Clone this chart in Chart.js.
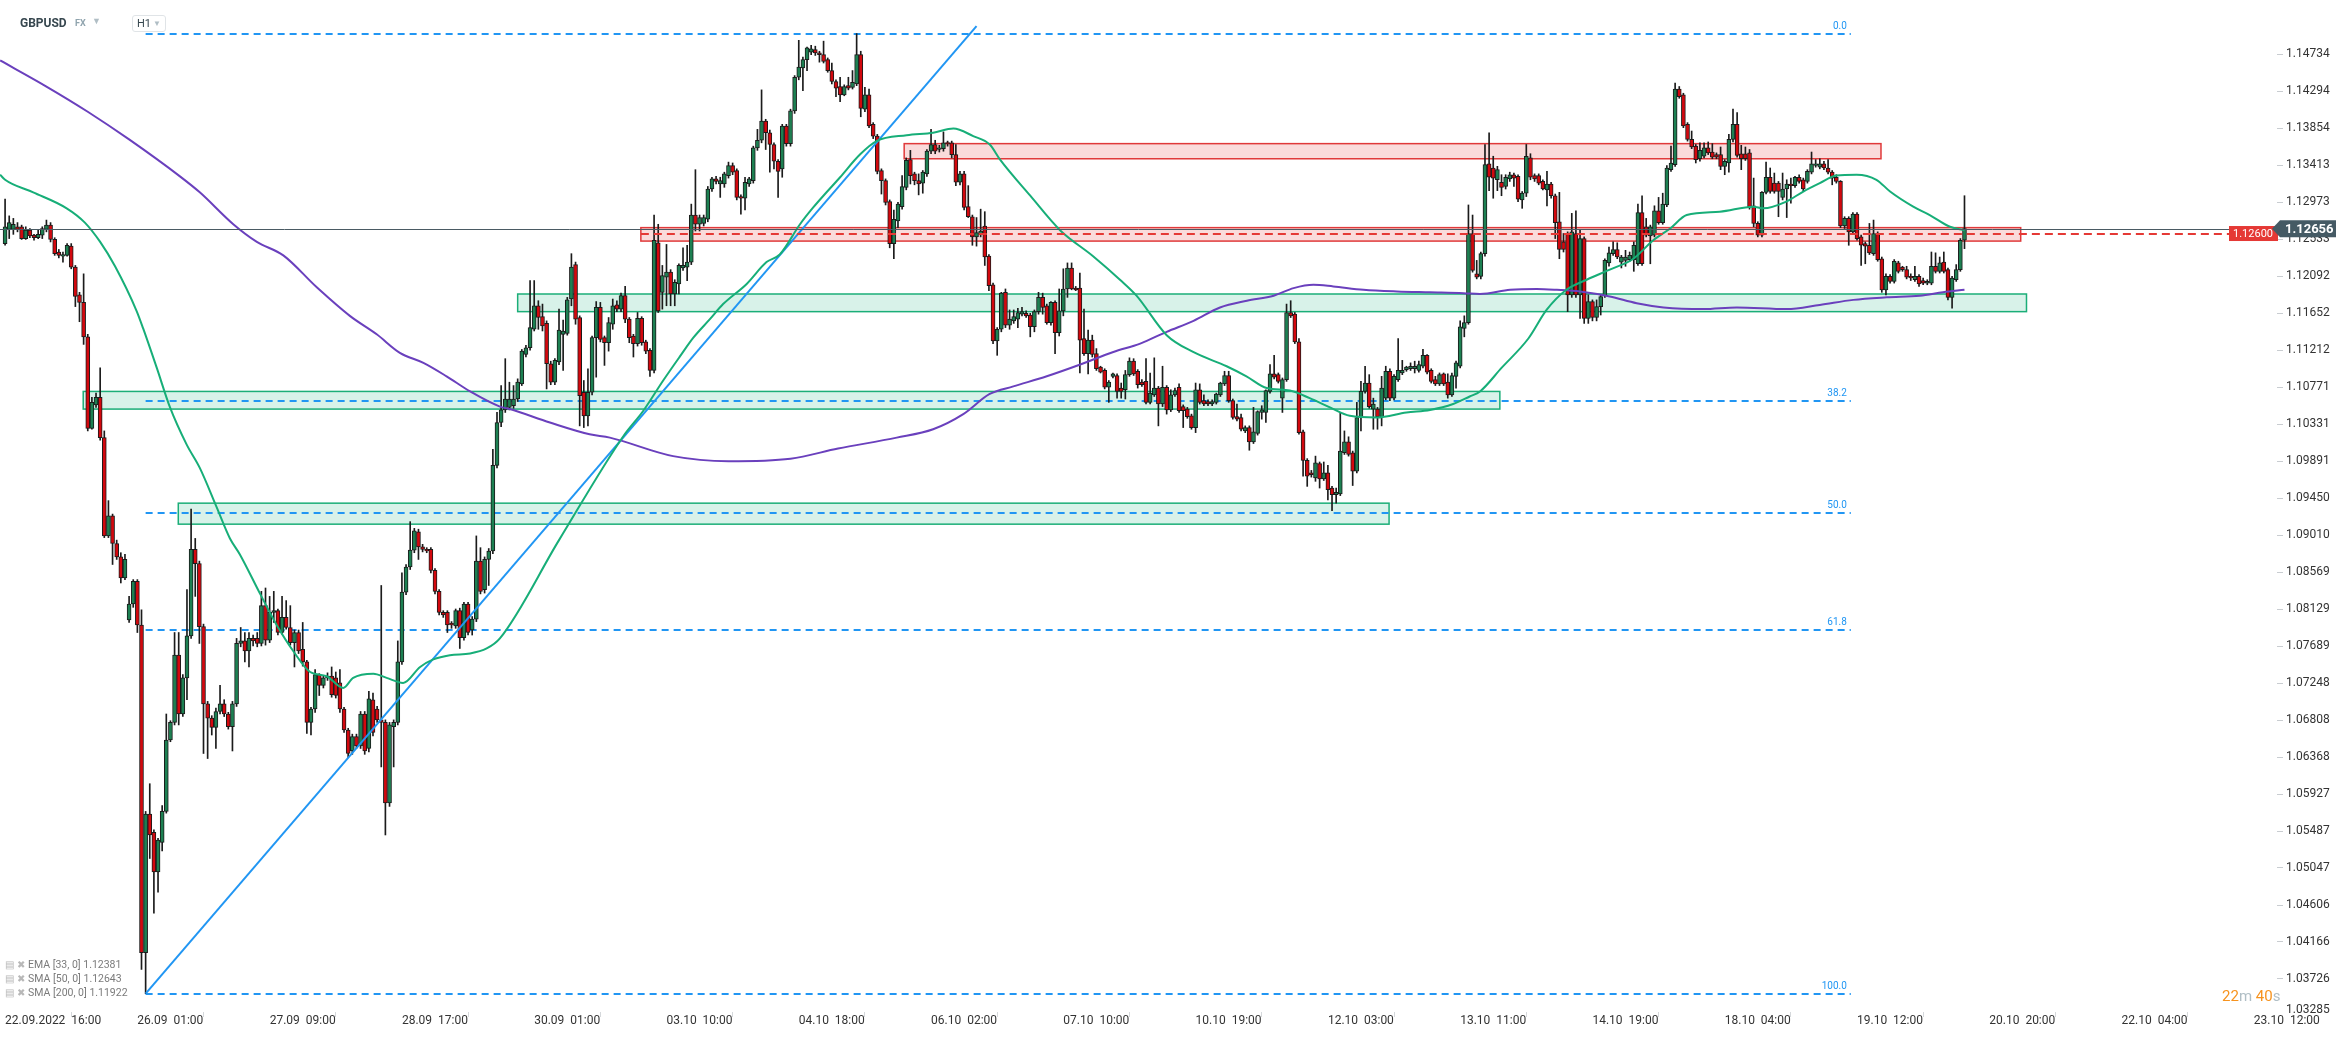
<!DOCTYPE html>
<html>
<head>
<meta charset="utf-8">
<script src="https://cdn.jsdelivr.net/npm/chart.js@4.4.0/dist/chart.umd.min.js"></script>
<style>
  html, body { margin: 0; padding: 0; background: #fff; }
  #wrap { position: relative; width: 2346px; height: 1039px; overflow: hidden; font-family: Roboto, "Noto Sans", sans-serif; }
  #chart { position: absolute; left: 0; top: 0; }
  .sym { position: absolute; left: 20px; top: 16px; font-size: 12px; font-weight: 700; color: #37474f; }
  .fx { position: absolute; left: 75px; top: 18px; font-size: 9px; font-weight: 700; color: #90a4ae; }
  .caret { position: absolute; font-size: 9px; color: #b0bec5; }
  .tf { position: absolute; left: 132px; top: 15px; width: 34px; height: 17px; box-sizing: border-box; border: 1px solid #e0e4e7; border-radius: 3px; background: #fff; font-size: 11px; color: #37474f; line-height: 15px; padding-left: 4px; }
  .tf span { position: absolute; left: 20px; top: 0; font-size: 8px; color: #b0bec5; }
  .leg { position: absolute; left: 5px; font-size: 10.5px; color: #7b7b7b; white-space: pre; line-height: 13px; }
  .leg i { font-style: normal; color: #b8b8b8; font-size: 10px; margin-right: 3px; }
  .timer { position: absolute; left: 2222px; top: 987px; font-size: 15px; white-space: pre; }
</style>
</head>
<body>
<div id="wrap">
  <canvas id="chart" width="2346" height="1039"></canvas>
  <div class="sym">GBPUSD</div>
  <div class="fx">FX</div>
  <div class="caret" style="left:92px;top:16px;">&#9660;</div>
  <div class="tf">H1<span>&#9660;</span></div>
  <div class="leg" style="top:958px;"><i>&#9636;</i><i>&#10006;</i>EMA [33, 0] 1.12381</div>
  <div class="leg" style="top:972px;"><i>&#9636;</i><i>&#10006;</i>SMA [50, 0] 1.12643</div>
  <div class="leg" style="top:986px;"><i>&#9636;</i><i>&#10006;</i>SMA [200, 0] 1.11922</div>
  <div class="timer"><span style="color:#f7931e">22</span><span style="color:#b0bec5">m</span> <span style="color:#f7931e">40</span><span style="color:#b0bec5">s</span></div>
</div>
<script>
// axis labels (one x label every 32 hourly bars)
const xTickIdx = [0, 32, 64, 96, 128, 160, 192, 224, 256, 288, 320, 352, 384, 416, 448, 480, 512, 544];
const xTickLabels = [
  "22.09.2022  16:00", "26.09  01:00", "27.09  09:00", "28.09  17:00", "30.09  01:00", "03.10  10:00",
  "04.10  18:00", "06.10  02:00", "07.10  10:00", "10.10  19:00", "12.10  03:00", "13.10  11:00",
  "14.10  19:00", "18.10  04:00", "19.10  12:00", "20.10  20:00", "22.10  04:00", "23.10  12:00",
];
const yTickLabels = [
  "1.14734", "1.14294", "1.13854", "1.13413", "1.12973", "1.12533", "1.12092", "1.11652", "1.11212",
  "1.10771", "1.10331", "1.09891", "1.09450", "1.09010", "1.08569", "1.08129", "1.07689", "1.07248",
  "1.06808", "1.06368", "1.05927", "1.05487", "1.05047", "1.04606", "1.04166", "1.03726",
];
const yBottomLabel = "1.03285";

// hourly candles, [open, high, low, close] in 0.0001 units
const ohlc = [
  [11248,11301,11246,11268],[11265,11281,11254,11273],[11265,11278,11259,11271],[11268,11273,11262,11265],
  [11268,11270,11253,11254],[11254,11268,11253,11264],[11264,11266,11255,11257],[11258,11259,11252,11255],
  [11255,11265,11254,11259],[11258,11268,11254,11266],[11265,11276,11262,11270],[11270,11273,11250,11253],
  [11253,11255,11234,11236],[11238,11241,11231,11234],[11233,11238,11226,11235],[11234,11248,11233,11246],
  [11245,11248,11218,11220],[11220,11222,11173,11185],[11187,11190,11155,11178],[11178,11212,11128,11137],
  [11137,11140,11025,11028],[11028,11065,11027,11059],[11056,11070,11053,11065],[11065,11100,11014,11017],
  [11017,11025,10898,10900],[10900,10942,10898,10924],[10924,10926,10866,10891],[10891,10895,10872,10875],
  [10875,10880,10844,10850],[10850,10878,10848,10872],[10800,10828,10797,10819],[10819,10848,10815,10846],
  // 26.09
  [10846,10848,10785,10794],[10794,10812,10384,10404],[10404,10572,10355,10569],[10569,10605,10516,10544],
  [10547,10550,10451,10500],[10500,10540,10476,10538],[10535,10579,10525,10572],[10572,10688,10570,10657],
  [10657,10680,10655,10678],[10678,10785,10675,10758],[10758,10785,10675,10688],[10688,10735,10685,10731],
  [10731,10836,10705,10781],[10781,10932,10778,10884],[10884,10897,10828,10867],[10867,10870,10772,10792],
  [10792,10795,10641,10700],[10700,10703,10635,10683],[10683,10686,10663,10672],[10672,10695,10647,10691],
  [10691,10722,10688,10700],[10700,10705,10685,10688],[10688,10690,10670,10673],[10673,10703,10644,10700],
  [10700,10778,10697,10772],[10772,10791,10768,10775],[10775,10785,10750,10763],[10763,10785,10744,10778],
  [10778,10782,10769,10775],[10778,10785,10768,10772],[10772,10834,10769,10817],[10817,10838,10770,10776],
  // 27.09
  [10776,10828,10773,10809],[10809,10834,10797,10811],[10811,10813,10782,10785],[10785,10828,10783,10803],
  [10803,10823,10789,10791],[10791,10817,10770,10773],[10773,10788,10744,10785],[10785,10788,10760,10763],
  [10765,10797,10745,10750],[10750,10752,10665,10678],[10678,10696,10663,10694],[10694,10741,10690,10735],
  [10735,10736,10710,10722],[10722,10734,10719,10731],[10731,10737,10728,10733],[10733,10744,10708,10711],
  [10731,10738,10707,10710],[10725,10741,10690,10694],[10694,10696,10666,10669],[10669,10671,10636,10641],
  [10644,10664,10640,10661],[10661,10664,10647,10650],[10650,10691,10647,10688],[10688,10691,10640,10644],
  [10647,10715,10643,10706],[10705,10713,10662,10666],[10694,10697,10678,10681],[10681,10841,10625,10678],
  [10678,10681,10544,10582],[10582,10678,10578,10675],[10673,10681,10625,10678],[10678,10775,10675,10750],
  // 28.09
  [10750,10856,10747,10833],[10833,10866,10830,10863],[10863,10917,10860,10883],[10883,10909,10880,10906],
  [10905,10908,10872,10887],[10887,10890,10881,10884],[10884,10886,10880,10882],[10884,10886,10856,10859],
  [10859,10861,10831,10834],[10834,10836,10806,10809],[10809,10811,10803,10806],[10809,10811,10785,10794],
  [10796,10798,10790,10794],[10793,10813,10790,10811],[10811,10814,10766,10779],[10779,10821,10776,10819],
  [10819,10821,10782,10785],[10788,10804,10782,10801],[10801,10900,10798,10870],[10870,10886,10831,10834],
  [10836,10875,10832,10872],[10872,10885,10841,10882],[10882,11003,10879,10984],[10984,11047,10981,11035],
  [11035,11079,11030,11050],[11050,11111,11047,11063],[11053,11083,11050,11063],[11055,11079,11052,11063],
  [11063,11087,11060,11083],[11081,11122,11079,11120],[11116,11127,11113,11124],[11124,11204,11121,11148],
  // 30.09
  [11146,11204,11144,11174],[11174,11180,11146,11160],[11161,11176,11144,11150],[11153,11156,11075,11105],
  [11105,11108,11080,11083],[11083,11111,11080,11109],[11107,11170,11104,11145],[11140,11157,11097,11144],
  [11141,11184,11139,11181],[11182,11236,11174,11220],[11223,11226,11152,11158],[11160,11162,11031,11067],
  [11071,11085,11029,11043],[11043,11099,11031,11071],[11071,11138,11068,11136],[11136,11179,11089,11172],
  [11172,11178,11131,11134],[11136,11138,11103,11130],[11130,11160,11120,11154],[11152,11182,11146,11174],
  [11175,11180,11167,11170],[11170,11189,11167,11186],[11186,11197,11154,11158],[11158,11160,11130,11136],
  [11138,11140,11113,11129],[11129,11166,11126,11159],[11159,11161,11127,11130],[11131,11133,11117,11120],
  [11121,11123,11090,11097],[11097,11282,11094,11252],[11249,11271,11166,11168],[11190,11222,11170,11210],
  // 03.10
  [11208,11247,11174,11214],[11214,11217,11174,11188],[11188,11205,11174,11202],[11200,11224,11188,11222],
  [11219,11243,11216,11222],[11220,11246,11204,11226],[11226,11295,11223,11282],[11282,11336,11263,11271],
  [11271,11282,11263,11279],[11272,11282,11269,11279],[11277,11316,11274,11313],[11313,11327,11310,11325],
  [11325,11328,11319,11322],[11319,11327,11303,11323],[11319,11333,11315,11331],[11329,11345,11326,11341],
  [11341,11344,11330,11333],[11335,11337,11300,11303],[11304,11306,11283,11302],[11302,11327,11288,11321],
  [11319,11327,11316,11325],[11323,11364,11320,11362],[11362,11384,11359,11371],[11371,11431,11368,11394],
  [11394,11396,11360,11380],[11380,11383,11333,11366],[11366,11368,11337,11346],[11346,11348,11303,11334],
  [11337,11390,11327,11388],[11388,11390,11364,11367],[11367,11408,11364,11406],[11406,11448,11403,11446],
  // 04.10
  [11446,11490,11443,11458],[11457,11470,11430,11467],[11467,11482,11454,11481],[11476,11484,11473,11480],
  [11479,11483,11472,11475],[11475,11477,11464,11473],[11473,11489,11463,11465],[11467,11469,11452,11454],
  [11454,11463,11438,11441],[11441,11443,11423,11433],[11435,11446,11417,11425],[11425,11437,11424,11435],
  [11436,11446,11431,11433],[11434,11454,11432,11440],[11438,11498,11436,11473],[11473,11477,11399,11409],
  [11408,11434,11405,11425],[11425,11432,11386,11388],[11390,11392,11373,11376],[11376,11378,11331,11334],
  [11335,11337,11307,11323],[11323,11325,11294,11297],[11298,11300,11243,11248],[11248,11288,11230,11277],
  [11275,11297,11267,11295],[11292,11329,11289,11316],[11315,11350,11312,11347],[11348,11359,11319,11329],
  [11331,11333,11318,11323],[11323,11331,11306,11319],[11320,11335,11308,11333],[11331,11360,11328,11358],
  // 06.10
  [11358,11384,11355,11366],[11366,11371,11355,11358],[11360,11365,11357,11362],[11361,11381,11358,11368],
  [11368,11370,11364,11367],[11368,11370,11350,11354],[11354,11366,11317,11321],[11321,11334,11318,11331],
  [11331,11334,11288,11291],[11292,11317,11279,11280],[11280,11282,11246,11256],[11256,11279,11245,11261],
  [11259,11289,11256,11263],[11269,11286,11222,11232],[11233,11235,11192,11198],[11199,11201,11129,11132],
  [11132,11148,11115,11146],[11146,11190,11143,11189],[11190,11194,11148,11151],[11151,11169,11146,11158],
  [11156,11169,11153,11161],[11158,11171,11148,11166],[11164,11172,11162,11167],[11165,11168,11160,11162],
  [11163,11165,11137,11149],[11149,11169,11143,11167],[11167,11190,11164,11184],[11184,11189,11164,11172],
  [11174,11176,11152,11154],[11154,11179,11151,11178],[11178,11180,11117,11142],[11142,11194,11138,11168],
  // 07.10
  [11168,11218,11162,11194],[11194,11225,11184,11219],[11219,11225,11193,11194],[11195,11197,11192,11193],
  [11195,11213,11094,11133],[11135,11170,11115,11117],[11117,11145,11093,11133],[11133,11139,11113,11116],
  [11117,11123,11097,11099],[11101,11102,11094,11095],[11097,11099,11075,11077],[11077,11085,11059,11083],
  [11090,11094,11088,11093],[11091,11093,11064,11072],[11076,11082,11064,11072],[11074,11097,11063,11092],
  [11092,11112,11090,11108],[11108,11111,11091,11093],[11096,11098,11076,11080],[11083,11086,11078,11080],
  [11084,11111,11057,11059],[11059,11094,11057,11070],[11068,11112,11066,11076],[11076,11078,11031,11057],
  [11057,11102,11054,11077],[11077,11079,11045,11050],[11050,11074,11048,11068],[11068,11076,11066,11073],
  [11077,11081,11047,11049],[11054,11056,11029,11049],[11051,11053,11040,11042],[11043,11045,11027,11029],
  // 10.10
  [11029,11082,11023,11074],[11074,11081,11057,11059],[11061,11068,11055,11057],[11060,11062,11055,11057],
  [11057,11062,11055,11060],[11059,11070,11057,11069],[11068,11083,11066,11082],[11081,11096,11079,11091],
  [11091,11096,11059,11061],[11061,11063,11039,11041],[11042,11057,11037,11039],[11041,11045,11025,11027],
  [11025,11031,11023,11029],[11029,11031,11002,11012],[11012,11053,11010,11024],[11022,11049,11020,11048],
  [11047,11055,11039,11050],[11047,11074,11035,11073],[11072,11104,11070,11093],[11093,11115,11087,11089],
  [11092,11094,11082,11084],[11064,11088,11047,11086],[11086,11176,11084,11166],[11166,11180,11160,11162],
  [11164,11166,11129,11131],[11131,11135,11021,11023],[11024,11026,10971,10990],[10990,10992,10959,10971],
  [10975,10978,10970,10973],[10969,10995,10965,10987],[10986,10988,10957,10968],[10968,10988,10966,10975],
  // 12.10
  [10975,10984,10943,10955],[10957,10959,10930,10949],[10949,10957,10939,10952],[10950,11047,10948,11001],
  [10999,11025,10997,11012],[11012,11018,10995,10997],[10999,11001,10960,10977],[10977,11059,10975,11041],
  [11041,11084,11025,11072],[11072,11102,11070,11082],[11082,11092,11052,11054],[11051,11064,11027,11057],
  [11051,11053,11027,11042],[11042,11090,11031,11076],[11064,11102,11062,11096],[11096,11099,11061,11064],
  [11064,11092,11062,11090],[11086,11135,11084,11097],[11094,11109,11092,11097],[11098,11102,11096,11101],
  [11099,11106,11097,11102],[11099,11108,11094,11102],[11097,11108,11095,11104],[11102,11122,11100,11115],
  [11115,11116,11093,11095],[11097,11099,11082,11084],[11086,11090,11079,11081],[11081,11094,11079,11092],
  [11093,11094,11079,11081],[11083,11093,11064,11068],[11068,11094,11066,11091],[11090,11108,11076,11106],
  // 13.10
  [11102,11156,11100,11149],[11147,11162,11137,11154],[11154,11294,11152,11260],[11260,11282,11214,11216],
  [11212,11228,11206,11208],[11209,11238,11206,11236],[11236,11366,11233,11342],[11343,11380,11311,11327],
  [11338,11352,11302,11326],[11324,11340,11311,11336],[11321,11330,11305,11315],[11316,11330,11313,11327],
  [11325,11333,11322,11330],[11330,11332,11316,11326],[11328,11330,11298,11301],[11300,11310,11290,11308],
  [11308,11366,11304,11352],[11350,11355,11324,11327],[11329,11331,11322,11325],[11329,11331,11318,11320],
  [11322,11324,11312,11313],[11312,11334,11293,11319],[11319,11321,11302,11305],[11305,11307,11254,11273],
  [11274,11309,11230,11241],[11250,11260,11238,11241],[11260,11262,11167,11187],[11187,11284,11184,11262],
  [11260,11287,11184,11187],[11187,11264,11159,11254],[11254,11256,11153,11159],[11159,11187,11153,11179],
  // 14.10
  [11179,11181,11156,11160],[11160,11181,11156,11173],[11173,11187,11163,11185],[11186,11230,11184,11228],
  [11225,11244,11221,11237],[11236,11250,11234,11241],[11241,11249,11230,11232],[11226,11234,11219,11232],
  [11228,11240,11221,11232],[11229,11238,11227,11234],[11229,11250,11215,11246],[11224,11295,11222,11285],
  [11285,11305,11222,11224],[11268,11278,11256,11258],[11257,11270,11224,11268],[11258,11293,11256,11287],
  [11287,11303,11271,11273],[11273,11308,11271,11295],[11294,11341,11292,11338],[11336,11364,11334,11344],
  [11342,11439,11340,11432],[11432,11435,11421,11423],[11425,11427,11386,11388],[11390,11392,11370,11372],
  [11372,11382,11361,11363],[11364,11366,11344,11348],[11349,11368,11346,11359],[11352,11368,11350,11362],
  [11362,11369,11354,11356],[11357,11367,11349,11351],[11354,11356,11349,11351],[11354,11363,11336,11340],
  // 18.10
  [11340,11348,11330,11346],[11344,11378,11333,11372],[11372,11408,11369,11390],[11390,11404,11351,11353],
  [11355,11365,11336,11349],[11355,11363,11347,11349],[11356,11360,11289,11292],[11293,11326,11268,11272],
  [11272,11274,11256,11258],[11258,11310,11256,11309],[11309,11345,11307,11327],[11327,11338,11308,11310],
  [11320,11332,11308,11310],[11320,11322,11280,11310],[11303,11332,11300,11313],[11313,11324,11279,11319],
  [11319,11326,11296,11317],[11317,11328,11315,11327],[11327,11330,11320,11322],[11324,11326,11311,11313],
  [11322,11336,11320,11334],[11333,11357,11331,11343],[11341,11348,11339,11343],[11339,11349,11337,11343],
  [11343,11346,11336,11338],[11338,11348,11331,11333],[11333,11335,11318,11326],[11327,11330,11320,11322],
  [11322,11323,11267,11269],[11269,11280,11266,11278],[11278,11280,11246,11262],[11262,11285,11260,11283],
  // 19.10
  [11283,11285,11252,11254],[11256,11258,11222,11246],[11248,11250,11224,11245],[11246,11272,11235,11237],
  [11236,11276,11234,11260],[11260,11262,11227,11229],[11230,11232,11190,11193],[11193,11212,11187,11209],
  [11209,11211,11201,11203],[11203,11229,11201,11227],[11225,11227,11213,11215],[11220,11221,11215,11217],
  [11217,11221,11206,11208],[11209,11212,11204,11207],[11205,11221,11203,11209],[11209,11211,11197,11200],
  [11204,11207,11199,11201],[11201,11205,11199,11203],[11201,11238,11199,11221],[11221,11237,11213,11215],
  [11215,11232,11213,11225],[11226,11238,11213,11215],[11217,11219,11181,11184],[11184,11209,11171,11207],
  [11205,11223,11203,11217],[11217,11254,11215,11252],[11252,11305,11242,11266],
];

// moving averages, [bar index, price]
const sma50 = [
  [-1.2,1.1330],[0,1.1324],[6.8,1.1309],[14.9,1.1290],[19.3,1.1273],[23,1.1250],[26.6,1.1221],[31.8,1.1168],
  [33.4,1.1147],[36.7,1.1100],[39.9,1.1053],[43.9,1.1009],[47.1,1.0981],[51.2,1.0934],[54.4,1.0897],[56.8,1.0878],
  [61.7,1.0831],[65.7,1.0794],[69.7,1.0763],[73.8,1.0738],[77.8,1.0733],[81.8,1.0719],[84.2,1.0731],[89.1,1.0736],
  [92.3,1.0731],[96.3,1.0725],[100.4,1.0744],[103.6,1.0753],[107.6,1.0758],[112.5,1.0760],[116.5,1.0766],[119.7,1.0778],
  [134,1.0895],[149.6,1.1019],[154.4,1.1049],[159.2,1.1085],[163.3,1.1114],[166.5,1.1136],[170.5,1.1158],[173.7,1.1176],
  [179.4,1.1200],[184.2,1.1226],[187.4,1.1235],[192.3,1.1271],[195.5,1.1291],[202,1.1327],[206.8,1.1354],[210.8,1.1370],
  [218.1,1.1377],[224.5,1.1380],[229.4,1.1385],[234.2,1.1376],[238.2,1.1366],[240.7,1.1348],[248,1.1305],[255.2,1.1264],
  [263.2,1.1233],[269.7,1.1205],[273.7,1.1186],[281,1.1139],[287.4,1.1119],[295.5,1.1102],[300.3,1.1090],[305.2,1.1076],
  [310.8,1.1073],[315.6,1.1064],[320.5,1.1053],[325.3,1.1043],[331.8,1.1041],[339,1.1047],[344.7,1.1050],[350.3,1.1057],
  [354.3,1.1066],[356.8,1.1072],[362,1.1100],[368.5,1.1135],[372.9,1.1169],[377.7,1.1193],[382.6,1.1205],[388.2,1.1217],
  [393.9,1.1230],[398.7,1.1252],[402.8,1.1266],[406.8,1.1282],[414.8,1.1286],[422.9,1.1292],[425.3,1.1290],[430.9,1.1298],
  [435,1.1310],[439,1.1320],[443,1.1329],[447.9,1.1330],[452.7,1.1324],[456,1.1310],[461.6,1.1292],[465.6,1.1282],
  [470.5,1.1268],[474,1.1264],
];
const sma200 = [
  [-1.2,1.1466],[10,1.1435],[20,1.1405],[30,1.1372],[42.3,1.1328],[47.1,1.1309],[55.2,1.1271],[60.9,1.1250],
  [67.3,1.1234],[75.4,1.1196],[83.4,1.1162],[89.9,1.1140],[95.5,1.1118],[101.2,1.1106],[106.8,1.1090],[112.5,1.1072],
  [119.7,1.1054],[122.1,1.1051],[131.8,1.1035],[141.4,1.1021],[146.3,1.1017],[161.6,1.0995],[175,1.0989],[190,1.0992],
  [201.5,1.1004],[215.7,1.1017],[224.5,1.1027],[231.8,1.1045],[238.2,1.1069],[243.9,1.1078],[252,1.1090],[260.1,1.1104],
  [268.1,1.1119],[274.6,1.1129],[281,1.1143],[287.5,1.1156],[293.9,1.1172],[300.4,1.1180],[306.9,1.1186],[311.7,1.1195],
  [316.5,1.1199],[321.3,1.1197],[328.6,1.1193],[336.7,1.1191],[344.7,1.1190],[352.8,1.1189],[356.8,1.1188],[364.1,1.1193],
  [370.5,1.1194],[375.4,1.1193],[381,1.1191],[388.2,1.1185],[394.7,1.1177],[401.2,1.1172],[410.8,1.1170],[418.9,1.1172],
  [431,1.1170],[439,1.1175],[447.1,1.1181],[455.2,1.1184],[463.2,1.1186],[468.8,1.1190],[474,1.1193],
];

// drawings on the chart: trend line, fibonacci levels, zones [fromIdx, toIdx, low, high]
const trendLine = [[34, 1.0355], [235, 1.1507]];
const fibStart = 34;
const fibEnd = 446.5;
const fibLevels = [["0.0", 1.1498], ["38.2", 1.1061], ["50.0", 1.0927], ["61.8", 1.0788], ["100.0", 1.0355]];
const greenZones = [[18.9, 361.6, 1.1051, 1.1072], [41.9, 334.8, 1.0914, 1.0939], [124, 489, 1.1167, 1.1188]];
const redZones = [[217.5, 453.8, 1.1349, 1.1367], [153.8, 487.6, 1.1251, 1.1267]];
const lastPrice = 1.12656;
const alertPrice = 1.12600;

const GREEN_BODY = "#1d8052";
const RED_BODY = "#d3080e";
const OUTLINE = "#1b1b1b";
const FIB_BLUE = "#2196f3";

const drawingsPlugin = {
  id: "drawings",
  beforeDatasetsDraw(chart) {
    const { ctx, chartArea, scales: { x, y } } = chart;
    ctx.save();
    ctx.beginPath();
    ctx.rect(chartArea.left, chartArea.top, chartArea.width, chartArea.height);
    ctx.clip();

    const zone = (z, fill, stroke) => {
      const x0 = x.getPixelForValue(z[0]);
      const x1 = x.getPixelForValue(z[1]);
      const y0 = y.getPixelForValue(z[3]);
      const y1 = y.getPixelForValue(z[2]);
      ctx.fillStyle = fill;
      ctx.fillRect(x0, y0, x1 - x0, y1 - y0);
      ctx.strokeStyle = stroke;
      ctx.lineWidth = 1.5;
      ctx.strokeRect(x0, y0, x1 - x0, y1 - y0);
    };
    greenZones.forEach(z => zone(z, "rgba(26,176,122,0.17)", "#1bae78"));
    redZones.forEach(z => zone(z, "rgba(229,57,53,0.18)", "#e0393a"));

    const fx0 = x.getPixelForValue(fibStart);
    const fx1 = x.getPixelForValue(fibEnd);
    ctx.strokeStyle = FIB_BLUE;
    ctx.lineWidth = 2;
    ctx.setLineDash([7, 5]);
    ctx.fillStyle = FIB_BLUE;
    ctx.font = "10px Roboto, sans-serif";
    ctx.textAlign = "right";
    ctx.textBaseline = "middle";
    fibLevels.forEach(([label, price]) => {
      const py = Math.round(y.getPixelForValue(price));
      ctx.beginPath();
      ctx.moveTo(fx0, py);
      ctx.lineTo(fx1, py);
      ctx.stroke();
      ctx.fillText(label, fx1 - 4, py - 8);
    });
    ctx.restore();
  },
  afterDatasetsDraw(chart) {
    const { ctx, chartArea, scales: { x, y } } = chart;
    ctx.save();
    const ly = Math.round(y.getPixelForValue(lastPrice)) + 0.5;
    ctx.strokeStyle = "#4a5a63";
    ctx.lineWidth = 1;
    ctx.beginPath();
    ctx.moveTo(chartArea.left, ly);
    ctx.lineTo(chartArea.right, ly);
    ctx.stroke();

    const ay = Math.round(y.getPixelForValue(alertPrice));
    ctx.strokeStyle = "#e53935";
    ctx.lineWidth = 2;
    ctx.setLineDash([8, 5]);
    ctx.beginPath();
    ctx.moveTo(x.getPixelForValue(redZones[1][0]), ay);
    ctx.lineTo(chartArea.right, ay);
    ctx.stroke();
    ctx.restore();
  },
  afterDraw(chart) {
    const { ctx, chartArea, scales: { y } } = chart;
    ctx.save();
    ctx.textAlign = "left";
    ctx.textBaseline = "middle";
    // bottom price label, shown without a tick mark
    ctx.fillStyle = "#333";
    ctx.font = "12px Roboto, sans-serif";
    ctx.fillText(yBottomLabel, chartArea.right + 9, chartArea.bottom - 2);
    // alert label
    const ay = y.getPixelForValue(alertPrice);
    ctx.fillStyle = "#e53935";
    ctx.fillRect(chartArea.right - 48, ay - 7.5, 49, 15);
    ctx.fillStyle = "#fff";
    ctx.font = "11px Roboto, sans-serif";
    ctx.fillText(alertPrice.toFixed(5), chartArea.right - 44, ay + 0.5);
    // last price label
    const ly = y.getPixelForValue(lastPrice);
    const lx = chartArea.right;
    ctx.fillStyle = "#455a64";
    ctx.beginPath();
    ctx.moveTo(lx - 5, ly);
    ctx.lineTo(lx + 3, ly - 8.5);
    ctx.lineTo(lx + 59, ly - 8.5);
    ctx.lineTo(lx + 59, ly + 8.5);
    ctx.lineTo(lx + 3, ly + 8.5);
    ctx.closePath();
    ctx.fill();
    ctx.fillStyle = "#fff";
    ctx.font = "bold 13px Roboto, sans-serif";
    ctx.fillText(lastPrice.toFixed(5), lx + 8, ly + 0.5);
    ctx.restore();
  },
};

const bodies = ohlc.map((r, i) => ({ x: i, y: [r[0] / 1e4, r[3] / 1e4] }));
const wicks = ohlc.map((r, i) => ({ x: i, y: [r[2] / 1e4, r[1] / 1e4] }));
const bodyColors = ohlc.map(r => (r[3] >= r[0] ? GREEN_BODY : RED_BODY));
const toPoints = list => list.map(([i, v]) => ({ x: i, y: v }));

new Chart(document.getElementById("chart"), {
  type: "bar",
  data: {
    datasets: [
      {
        type: "line",
        label: "SMA 50",
        data: toPoints(sma50),
        borderColor: "#17ae78",
        borderWidth: 2,
        pointRadius: 0,
        cubicInterpolationMode: "monotone",
        order: 0,
      },
      {
        type: "line",
        label: "SMA 200",
        data: toPoints(sma200),
        borderColor: "#6a40bd",
        borderWidth: 2,
        pointRadius: 0,
        cubicInterpolationMode: "monotone",
        order: 1,
      },
      {
        type: "line",
        label: "trend",
        data: toPoints(trendLine),
        borderColor: FIB_BLUE,
        borderWidth: 2,
        pointRadius: 0,
        order: 2,
      },
      {
        label: "body",
        data: bodies,
        backgroundColor: bodyColors,
        borderColor: OUTLINE,
        borderWidth: 1,
        borderSkipped: false,
        barThickness: 4,
        minBarLength: 1,
        grouped: false,
        order: 3,
      },
      {
        label: "wick",
        data: wicks,
        backgroundColor: OUTLINE,
        borderWidth: 0,
        barThickness: 1,
        grouped: false,
        order: 4,
      },
    ],
  },
  options: {
    responsive: false,
    animation: false,
    events: [],
    layout: { padding: 0 },
    plugins: { legend: { display: false }, tooltip: { enabled: false } },
    scales: {
      x: {
        type: "linear",
        min: -1.23,
        max: 549.6,
        offset: false,
        afterBuildTicks: scale => { scale.ticks = xTickIdx.map(v => ({ value: v })); },
        afterFit: scale => {
          scale.height = 27;
          scale.paddingLeft = 0;
          scale.paddingRight = 0;
        },
        grid: { drawOnChartArea: false, drawTicks: true, tickLength: 5, color: "#d5d8db" },
        border: { display: false },
        ticks: {
          autoSkip: false,
          maxRotation: 0,
          align: "start",
          padding: -3,
          color: "#333",
          font: { family: "Roboto", size: 12 },
          callback: (value, index) => xTickLabels[index],
        },
      },
      y: {
        type: "linear",
        position: "right",
        min: 1.033324,
        max: 1.1538,
        afterBuildTicks: scale => { scale.ticks = yTickLabels.map(t => ({ value: parseFloat(t) })); },
        afterFit: scale => {
          scale.width = 69;
          scale.paddingTop = 0;
          scale.paddingBottom = 0;
        },
        grid: { drawOnChartArea: false, drawTicks: true, tickLength: 6, color: "#c9cdd1" },
        border: { display: false },
        ticks: {
          autoSkip: false,
          padding: 3,
          color: "#333",
          font: { family: "Roboto", size: 12 },
          callback: (value, index) => yTickLabels[index],
        },
      },
    },
  },
  plugins: [drawingsPlugin],
});
</script>
</body>
</html>
